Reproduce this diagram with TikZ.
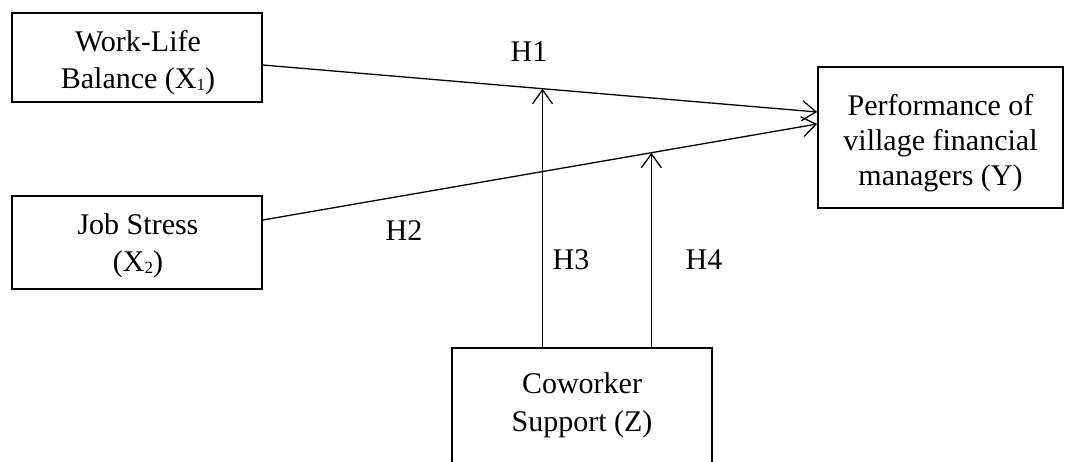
\documentclass[tikz,border=0pt]{standalone}
\usepackage{fontspec}
\setmainfont{Liberation Serif}
\usetikzlibrary{arrows.meta,calc}
\newcommand{\subdig}[1]{\raisebox{-1.5pt}{\fontsize{17}{17}\selectfont #1}}
\begin{document}
\begin{tikzpicture}[x=1pt,y=-1pt,
  box/.style={draw,line width=1.6pt,inner sep=0pt},
  txt/.style={inner sep=0pt,align=center,font=\fontsize{30}{37}\selectfont},
  lbl/.style={inner sep=0pt,font=\fontsize{30}{37}\selectfont},
  conn/.style={line width=1.3pt,-{Straight Barb[length=14pt,width=20pt,line width=1.3pt]}}]
\useasboundingbox (0,0) rectangle (1075,461);
% boxes
\node[box,minimum width=250pt,minimum height=89pt] (wlb) at (137,57.5) {};
\node[box,minimum width=250pt,minimum height=93pt] (js) at (137,242.5) {};
\node[box,minimum width=245pt,minimum height=141pt] (perf) at (940.5,137.5) {};
\node[box,minimum width=260pt,minimum height=116pt] (cow) at (582,406) {};
% texts
\node[txt] (wlbt) at (138,62.9) {Work-Life\\Balance (X\subdig{1})};
\node[txt] (jst) at (138,245.9) {Job Stress\\(X\subdig{2})};
\node[txt,font=\fontsize{30}{35}\selectfont] (perft) at (940.5,143) {Performance of\\village financial\\managers (Y)};
\node[txt,font=\fontsize{30}{38}\selectfont] (cowt) at (582,405) {Coworker\\Support (Z)};
% connectors
\coordinate (a1) at ([yshift=-7.5pt]wlb.east);
\coordinate (b1) at ([yshift=25.5pt]perf.west);
\coordinate (a2) at ([yshift=22.5pt]js.east);
\coordinate (b2) at ([yshift=13.5pt]perf.west);
\draw[conn] (a1) -- (b1);
\draw[conn] (a2) -- (b2);
\coordinate (m1) at ($(a1)!0.5045!(b1)$);
\coordinate (m2) at ($(a2)!0.7009!(b2)$);
\draw[conn] (cow.north -| m1) -- (m1);
\draw[conn] (cow.north -| m2) -- (m2);
% labels
\node[lbl] (h1) at (529,52) {H1};
\node[lbl] (h2) at (404,231) {H2};
\node[lbl] (h3) at (571,260) {H3};
\node[lbl] (h4) at (704,260) {H4};
\end{tikzpicture}
\end{document}
